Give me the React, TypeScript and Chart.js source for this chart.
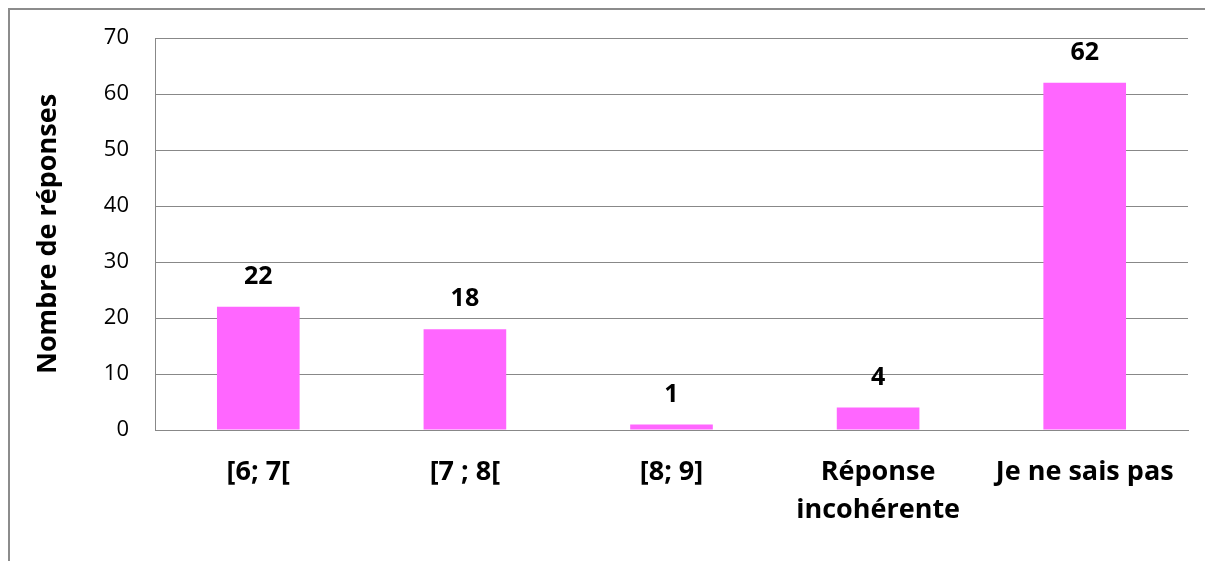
import React, { useEffect, useRef } from "react";
import { Chart, registerables } from "chart.js";

Chart.register(...registerables);

const categories: (string | string[])[] = ["[6; 7[", "[7 ; 8[", "[8; 9]", ["Réponse", "incohérente"], "Je ne sais pas"];
const values: number[] = [22, 18, 1, 4, 62];
const yTicks: number[] = [0, 10, 20, 30, 40, 50, 60, 70];
const yTitle = "Nombre de réponses";

const FONT = "'Open Sans', Lato, sans-serif";

const dataLabelPlugin = {
  id: "dataLabels",
  afterDatasetsDraw(chart: any) {
    const ctx = chart.ctx;
    const meta = chart.getDatasetMeta(0);
    ctx.save();
    ctx.font = `bold 25px ${FONT}`;
    ctx.fillStyle = "#000";
    ctx.textAlign = "center";
    ctx.textBaseline = "middle";
    meta.data.forEach((el: any, i: number) => {
      ctx.fillText(String(values[i]), el.x, el.y - 30);
    });
    ctx.restore();
  },
};

export default function App() {
  const ref = useRef<HTMLCanvasElement | null>(null);
  useEffect(() => {
    if (!ref.current) return;
    const chart = new Chart(ref.current, {
      type: "bar",
      data: {
        labels: categories,
        datasets: [
          {
            data: values,
            backgroundColor: "#FF66FF",
            borderWidth: 0,
            barPercentage: 0.4,
            categoryPercentage: 1,
          },
        ],
      },
      options: {
        animation: false,
        responsive: false,
        maintainAspectRatio: false,
        layout: { padding: { top: 28, right: 17, left: 0, bottom: 0 } },
        plugins: { legend: { display: false }, tooltip: { enabled: false } },
        scales: {
          x: {
            grid: { display: false, drawTicks: false },
            border: { display: true, color: "#888888", width: 1 },
            ticks: {
              color: "#000",
              padding: 23,
              maxRotation: 0,
              autoSkip: false,
              font: { family: FONT, size: 27, weight: "bold", lineHeight: 1.407 },
            },
            afterFit(scale: any) {
              scale.height = 131;
              scale.paddingLeft = 0;
              scale.paddingRight = 0;
            },
          },
          y: {
            min: 0,
            max: 70,
            afterBuildTicks(scale: any) {
              scale.ticks = yTicks.map((v) => ({ value: v }));
            },
            grid: { color: "#888888", lineWidth: 1, drawTicks: false },
            border: { display: true, color: "#888888", width: 1 },
            ticks: {
              color: "#000",
              padding: 26,
              font: { family: FONT, size: 22 },
            },
            title: {
              display: true,
              text: yTitle,
              color: "#000",
              padding: { top: 25, bottom: 0 },
              font: { family: FONT, size: 27, weight: "bold", lineHeight: 1 },
            },
            afterFit(scale: any) {
              scale.width = 145;
              scale.paddingTop = 0;
              scale.paddingBottom = 0;
            },
          },
        },
      },
      plugins: [dataLabelPlugin],
    } as any);
    return () => chart.destroy();
  }, []);

  return (
    <div
      style={{
        position: "fixed",
        left: 8,
        top: 8,
        width: 1197,
        height: 553,
        borderTop: "2px solid #8c8c8c",
        borderLeft: "2px solid #8c8c8c",
        background: "#fff",
      }}
    >
      <canvas ref={ref} width={1195} height={551} style={{ display: "block" }} />
    </div>
  );
}
